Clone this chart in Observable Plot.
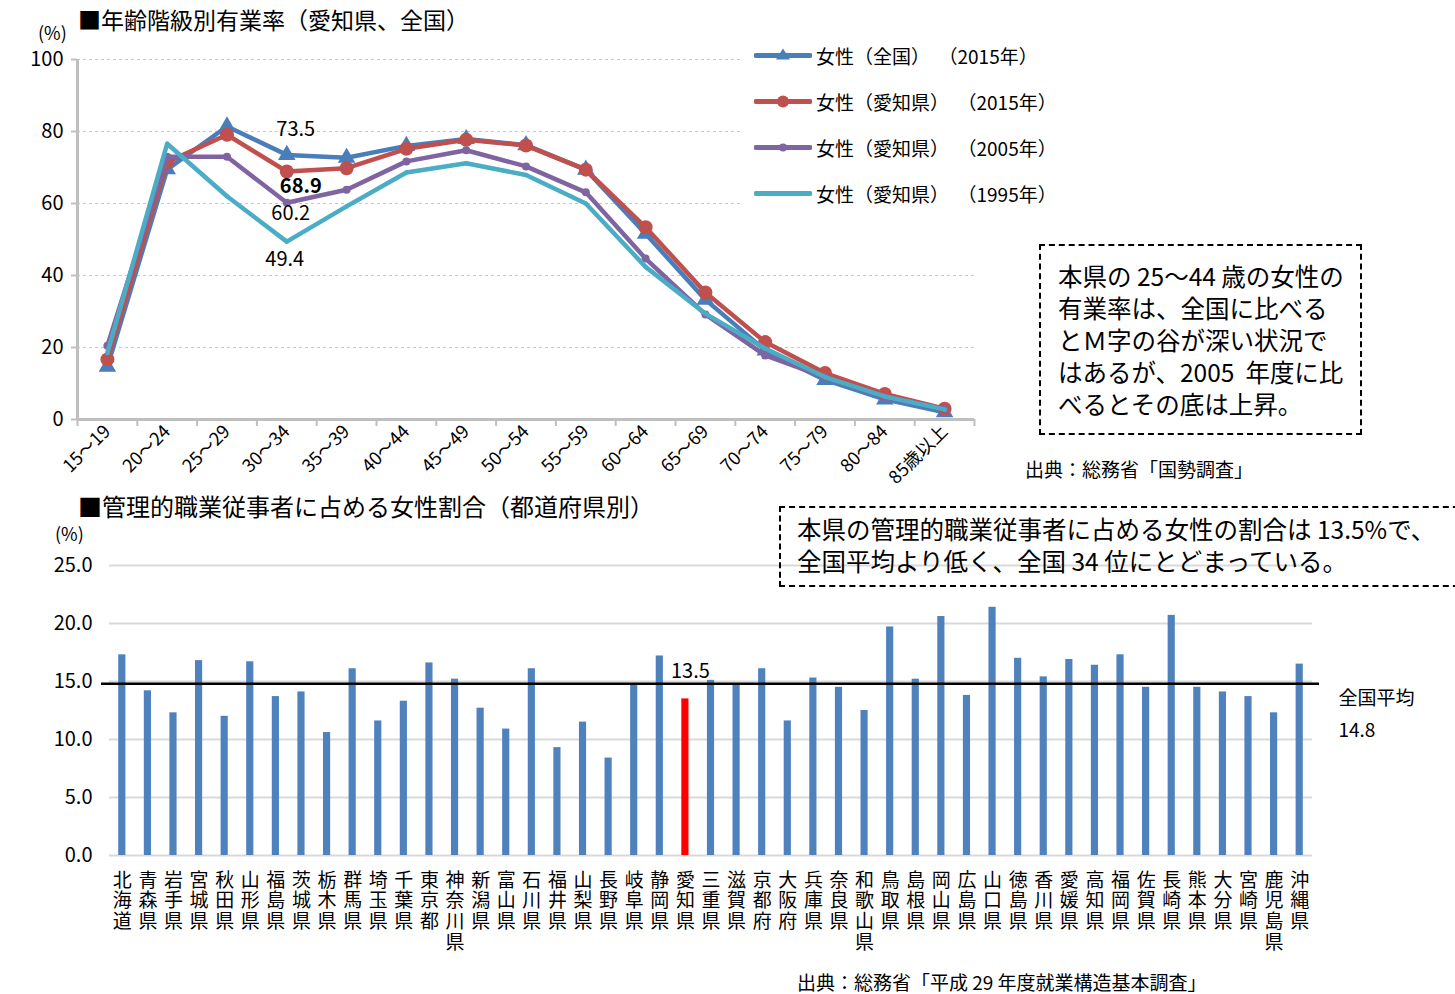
<!DOCTYPE html>
<html><head><meta charset="utf-8">
<script src="https://cdn.jsdelivr.net/npm/d3@7"></script>
<script src="https://cdn.jsdelivr.net/npm/@observablehq/plot@0.6"></script>
<style>
body{margin:0;width:1455px;height:994px;overflow:hidden;background:#fff;position:relative;
 font-family:"Noto Sans CJK JP","Noto Sans",sans-serif;color:#000}
.abs{position:absolute;white-space:nowrap;line-height:1;transform:translateY(-50%)}
.svgbox{position:absolute}
.legend{position:absolute;left:742px;top:36px;width:330px;height:180px;background:#fff}
.legend .row{position:absolute;left:12px;display:flex;align-items:center;font-size:19px;transform:translateY(-50%);white-space:pre}
.legend svg{margin-right:4px}
.box{position:absolute;border:2px dashed #000;box-sizing:border-box}
.box div{white-space:pre}
</style></head><body>
<div id="topchart" class="svgbox" style="left:0;top:0"></div>
<div id="botchart" class="svgbox" style="left:0;top:540px"></div>
<div class="abs" style="left:78px;top:19px;font-size:23px">■年齢階級別有業率（愛知県、全国）</div>
<div class="abs" style="left:38px;top:32px;font-size:18px">(%)</div>
<div class="legend" id="legend"></div>
<div class="box" style="left:1039px;top:244px;width:323px;height:191px;padding:14px 0 0 17px;font-size:24.5px;line-height:32px">
<div>本県の 25～44 歳の女性の</div><div>有業率は、全国に比べる</div><div>とＭ字の谷が深い状況で</div><div>はあるが、2005  年度に比</div><div>べるとその底は上昇。</div></div>
<div class="abs" style="left:1025px;top:468px;font-size:19px">出典：総務省「国勢調査」</div>
<div class="abs" style="left:78px;top:506px;font-size:24px">■管理的職業従事者に占める女性割合（都道府県別）</div>
<div class="abs" style="left:55px;top:533px;font-size:18px">(%)</div>
<div class="box" style="left:779px;top:506px;width:700px;height:81px;padding:5px 0 0 16px;font-size:24.5px;line-height:32px">
<div>本県の管理的職業従事者に占める女性の割合は 13.5%で、</div><div>全国平均より低く、全国 34 位にとどまっている。</div></div>
<div class="abs" style="left:797px;top:981px;font-size:19px">出典：総務省「平成 29 年度就業構造基本調査」</div>
<script>
// ---- Top chart data ----
const ages = ["15～19","20～24","25～29","30～34","35～39","40～44","45～49","50～54","55～59","60～64","65～69","70～74","75～79","80～84","85歳以上"];
const national2015 = [14.7, 69.5, 81.4, 73.5, 72.7, 76.0, 77.9, 76.2, 69.4, 51.6, 33.3, 19.2, 11.0, 5.6, 2.0];
const aichi2015   = [16.7, 71.5, 79.1, 68.9, 69.8, 75.2, 77.7, 76.1, 69.4, 53.4, 35.3, 21.5, 12.9, 7.1, 3.0];
const aichi2005   = [20.5, 73.0, 73.0, 60.2, 63.8, 71.7, 74.8, 70.3, 63.1, 44.7, 29.2, 17.8, 11.8, 6.2, 2.9];
const aichi1995   = [18.5, 76.6, 62.0, 49.4, 59.2, 68.6, 71.2, 67.9, 60.0, 42.4, 29.4, 19.7, 11.8, 6.4, 2.8];
const seriesNames = ["女性（全国）  （2015年）","女性（愛知県）  （2015年）","女性（愛知県）  （2005年）","女性（愛知県）  （1995年）"];
const seriesColors = ["#4a7ebb","#c0504d","#8064a2","#4bacc6"];
const labelIndex = 3; // 30～34

// ---- Bottom chart data ----
const prefectures = ["北海道","青森県","岩手県","宮城県","秋田県","山形県","福島県","茨城県","栃木県","群馬県","埼玉県","千葉県","東京都","神奈川県","新潟県","富山県","石川県","福井県","山梨県","長野県","岐阜県","静岡県","愛知県","三重県","滋賀県","京都府","大阪府","兵庫県","奈良県","和歌山県","鳥取県","島根県","岡山県","広島県","山口県","徳島県","香川県","愛媛県","高知県","福岡県","佐賀県","長崎県","熊本県","大分県","宮崎県","鹿児島県","沖縄県"];
const femaleManagerShare = [17.3,14.2,12.3,16.8,12.0,16.7,13.7,14.1,10.6,16.1,11.6,13.3,16.6,15.2,12.7,10.9,16.1,9.3,11.5,8.4,14.7,17.2,13.5,15.1,14.7,16.1,11.6,15.3,14.5,12.5,19.7,15.2,20.6,13.8,21.4,17.0,15.4,16.9,16.4,17.3,14.5,20.7,14.5,14.1,13.7,12.3,16.5];
const nationalAverage = 14.8;
const highlight = "愛知県";

const FONT = '"Noto Sans CJK JP","Noto Sans",sans-serif';

// ---- Top chart ----
const allSeries = [national2015, aichi2015, aichi2005, aichi1995];
const markerSpecs = [
  {symbol:"triangle", r:6.5},
  {symbol:"circle", r:7},
  {symbol:"circle", r:4},
  {symbol:"circle", r:2.2}
];
const seriesMarks = allSeries.flatMap((vals, si) => {
  const data = vals.map((v,i)=>({i, v}));
  return [
    Plot.line(data, {x:"i", y:"v", stroke:seriesColors[si], strokeWidth:4.5}),
    Plot.dot(data, {x:"i", y:"v", fill:seriesColors[si], stroke:"none", symbol:markerSpecs[si].symbol, r:markerSpecs[si].r})
  ];
});
const labelOffsets = [
  {dx:9, dy:-25, fontWeight:"normal"},
  {dx:14, dy:15, fontWeight:"bold"},
  {dx:4, dy:11, fontWeight:"normal"},
  {dx:-2, dy:18, fontWeight:"normal"}
];
const labelMarks = allSeries.map((vals, si) =>
  Plot.text([{i:labelIndex, v:vals[labelIndex]}], {x:"i", y:"v", text:d=>d.v.toFixed(1), fontSize:20,
    dx:labelOffsets[si].dx, dy:labelOffsets[si].dy, fontWeight:labelOffsets[si].fontWeight, fill:"#000"})
);

const topPlot = Plot.plot({
  width:1000, height:480, marginLeft:77, marginRight:26, marginTop:59, marginBottom:61,
  style:{fontFamily:FONT, fontSize:"19px", color:"#000", background:"transparent", overflow:"visible"},
  x:{type:"linear", domain:[-0.5, ages.length-0.5]},
  y:{domain:[0,100]},
  marks:[
    Plot.gridY([20,40,60,80,100], {stroke:"#c8c8c8", strokeOpacity:1, strokeDasharray:"3,3", strokeWidth:1}),
    Plot.axisY({ticks:[0,20,40,60,80,100], tickSize:6, tickPadding:8, stroke:"#bfbfbf", strokeWidth:2, fontSize:20, label:null}),
    Plot.axisX({ticks:d3.range(-0.5, ages.length), tickSize:7, tickFormat:()=>"", stroke:"#bfbfbf", strokeWidth:2, label:null}),
    Plot.axisX({ticks:d3.range(ages.length), tickSize:0, tickPadding:9, tickFormat:i=>ages[i], tickRotate:-45, fontSize:18, label:null}),
    Plot.ruleX([-0.5], {stroke:"#bfbfbf", strokeWidth:3}),
    Plot.ruleY([0], {stroke:"#bfbfbf", strokeWidth:3}),
    ...seriesMarks,
    ...labelMarks
  ]
});
document.getElementById("topchart").append(topPlot);

// legend
const legendEl = document.getElementById("legend");
const rowY = [55,101,147,193];
seriesNames.forEach((name, si) => {
  const row = document.createElement("div");
  row.className = "row";
  row.style.top = (rowY[si]-36) + "px";
  const ns = "http://www.w3.org/2000/svg";
  const svg = document.createElementNS(ns, "svg");
  svg.setAttribute("width", 58); svg.setAttribute("height", 18);
  const ln = document.createElementNS(ns, "line");
  ln.setAttribute("x1", 2); ln.setAttribute("x2", 56); ln.setAttribute("y1", 9); ln.setAttribute("y2", 9);
  ln.setAttribute("stroke", seriesColors[si]); ln.setAttribute("stroke-width", 5); ln.setAttribute("stroke-linecap","round");
  svg.append(ln);
  const m = markerSpecs[si];
  if (m.symbol === "triangle") {
    const p = document.createElementNS(ns, "path");
    p.setAttribute("d", "M29,2 L36,13 L22,13 Z"); p.setAttribute("fill", seriesColors[si]);
    svg.append(p);
  } else {
    const c = document.createElementNS(ns, "circle");
    c.setAttribute("cx", 29); c.setAttribute("cy", 9); c.setAttribute("r", Math.min(m.r, 6)); c.setAttribute("fill", seriesColors[si]);
    svg.append(c);
  }
  row.append(svg);
  const t = document.createElement("span"); t.textContent = name; row.append(t);
  legendEl.append(row);
});

// ---- Bottom chart ----
const barData = prefectures.map((p,i)=>({p, v:femaleManagerShare[i]}));
const maxLen = d3.max(prefectures, p => p.length);
const nameRows = d3.range(maxLen).map(r =>
  Plot.text(prefectures.filter(p => p.length > r), {x:d=>d, text:d=>d[r], frameAnchor:"bottom",
    dy:25 + r*20.7, lineAnchor:"middle", fontSize:19})
);
const botPlot = Plot.plot({
  width:1455, height:454, marginLeft:109, marginRight:143, marginTop:25, marginBottom:139,
  style:{fontFamily:FONT, fontSize:"19px", color:"#000", background:"transparent", overflow:"visible"},
  x:{type:"band", domain:prefectures, paddingInner:0.72, paddingOuter:0.36, round:false, axis:null},
  y:{domain:[0,25]},
  marks:[
    Plot.gridY([0,5,10,15,20,25], {stroke:"#d9d9d9", strokeOpacity:1, strokeWidth:2}),
    Plot.axisY({ticks:[0,5,10,15,20,25], tickSize:0, tickPadding:17, tickFormat:d3.format(".1f"), fontSize:20, label:null}),
    ...nameRows,
    Plot.barY(barData.filter(d=>d.p!==highlight), {x:"p", y:"v", fill:"#4f81bd"}),
    Plot.barY(barData.filter(d=>d.p===highlight), {x:"p", y:"v", fill:"#ff0000"}),
    Plot.ruleY([nationalAverage], {stroke:"#000", strokeWidth:2.5, insetLeft:-8, insetRight:-7}),
    Plot.text(barData.filter(d=>d.p===highlight), {x:"p", y:"v", text:d=>d.v.toFixed(1), dy:-27, dx:5, fontSize:20}),
    Plot.text([nationalAverage], {y:d=>d, frameAnchor:"right", textAnchor:"start", dx:26, dy:27, lineHeight:1.65,
      text:d=>"全国平均\n"+d.toFixed(1), fontSize:19})
  ]
});
document.getElementById("botchart").append(botPlot);
</script>
</body></html>
